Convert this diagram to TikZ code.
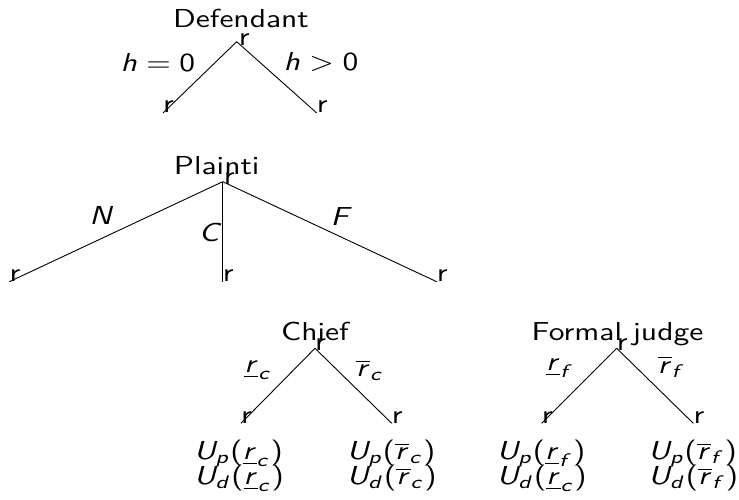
\documentclass[tikz,border=0pt]{standalone}
\usepackage{graphicx}
\renewcommand{\familydefault}{\sfdefault}
% sans-serif maths: upright digits/brackets and slanted letters
\DeclareSymbolFont{operators}{OT1}{cmss}{m}{n}
\DeclareMathAlphabet{\msf}{OT1}{cmss}{m}{sl}
% wide, light lettering used for every label
\newcommand{\wide}[1]{\scalebox{3.15}[2.6]{#1}}
\newcommand{\twolines}[2]{\wide{\begin{tabular}{@{}l@{}}#1\\[-2.4pt]#2\end{tabular}}}
\begin{document}
\begin{tikzpicture}[x=1pt,y=-1pt,
  every node/.style={font=\fontsize{10}{12}\selectfont, inner sep=0pt},
  edge/.style={draw=black, line width=0.9pt},
  vtx/.style={anchor=south west},
  who/.style={anchor=base},
  pay/.style={anchor=center}]
\useasboundingbox (0,0) rectangle (739,500);

% Defendant's move
\coordinate (d0) at (236.7,41.7);
\coordinate (d1) at (163,113);
\coordinate (d2) at (316.7,113);
\node[who] (dname) at (241,28) {\wide{Defendant}};
\draw[edge] (d0) -- (d1);
\draw[edge] (d0) -- (d2);
\node (h0) at (158,62) {\wide{$\msf{h}=0$}};
\node (h1) at (321,62) {\wide{$\msf{h}>0$}};
\node[vtx] (md0) at ([xshift=2pt,yshift=-4pt]d0) {\wide{r}};
\node[vtx] (md1) at (d1) {\wide{r}};
\node[vtx] (md2) at (d2) {\wide{r}};

% Plaintiff's move
\coordinate (p0) at (222.7,181.7);
\coordinate (pN) at (9.3,281.7);
\coordinate (pC) at (222.7,281.7);
\coordinate (pF) at (436.7,281.7);
\node[who] (pname) at (216.7,175) {\wide{Plainti}};
\draw[edge] (p0) -- (pN);
\draw[edge] (p0) -- (pC);
\draw[edge] (p0) -- (pF);
\node (lN) at (101.7,215) {\wide{$\msf{N}$}};
\node (lC) at (210.7,232.7) {\wide{$\msf{C}$}};
\node (lF) at (341.7,216) {\wide{$\msf{F}$}};
\node[vtx] (mp0) at ([xshift=1pt,yshift=-3pt]p0) {\wide{r}};
\node[vtx] (mpN) at (pN) {\wide{r}};
\node[vtx] (mpC) at (pC) {\wide{r}};
\node[vtx] (mpF) at (pF) {\wide{r}};

% Chief's move
\coordinate (c0) at (315,348.3);
\coordinate (c1) at (241,423.3);
\coordinate (c2) at (391.7,423.3);
\node[who] (cname) at (315,340) {\wide{Chief}};
\draw[edge] (c0) -- (c1);
\draw[edge] (c0) -- (c2);
\node (lc1) at (258.3,370) {\wide{$\underline{\msf{r}}_{\msf{c}}$}};
\node (lc2) at (370,370) {\wide{$\overline{\msf{r}}_{\msf{c}}$}};
\node[vtx] (mc0) at ([yshift=-2pt]c0) {\wide{r}};
\node[vtx] (mc1) at (c1) {\wide{r}};
\node[vtx] (mc2) at (c2) {\wide{r}};
\node[pay] (uc1) at (239,466) {\twolines{$\msf{U}_{\msf{p}}(\underline{\msf{r}}_{\msf{c}})$}{$\msf{U}_{\msf{d}}(\underline{\msf{r}}_{\msf{c}})$}};
\node[pay] (uc2) at (391.7,466) {\twolines{$\msf{U}_{\msf{p}}(\overline{\msf{r}}_{\msf{c}})$}{$\msf{U}_{\msf{d}}(\overline{\msf{r}}_{\msf{c}})$}};

% Formal judge's move
\coordinate (f0) at (616.7,348.3);
\coordinate (f1) at (541.7,423.3);
\coordinate (f2) at (693.3,423.3);
\node[who] (fname) at (617.5,340) {\wide{Formal judge}};
\draw[edge] (f0) -- (f1);
\draw[edge] (f0) -- (f2);
\node (lf1) at (560,368) {\wide{$\underline{\msf{r}}_{\msf{f}}$}};
\node (lf2) at (671.7,366.7) {\wide{$\overline{\msf{r}}_{\msf{f}}$}};
\node[vtx] (mf0) at ([yshift=-2pt]f0) {\wide{r}};
\node[vtx] (mf1) at (f1) {\wide{r}};
\node[vtx] (mf2) at (f2) {\wide{r}};
\node[pay] (uf1) at (541.7,466) {\twolines{$\msf{U}_{\msf{p}}(\underline{\msf{r}}_{\msf{f}})$}{$\msf{U}_{\msf{d}}(\underline{\msf{r}}_{\msf{c}})$}};
\node[pay] (uf2) at (693.3,466) {\twolines{$\msf{U}_{\msf{p}}(\overline{\msf{r}}_{\msf{f}})$}{$\msf{U}_{\msf{d}}(\overline{\msf{r}}_{\msf{f}})$}};
\end{tikzpicture}
\end{document}
